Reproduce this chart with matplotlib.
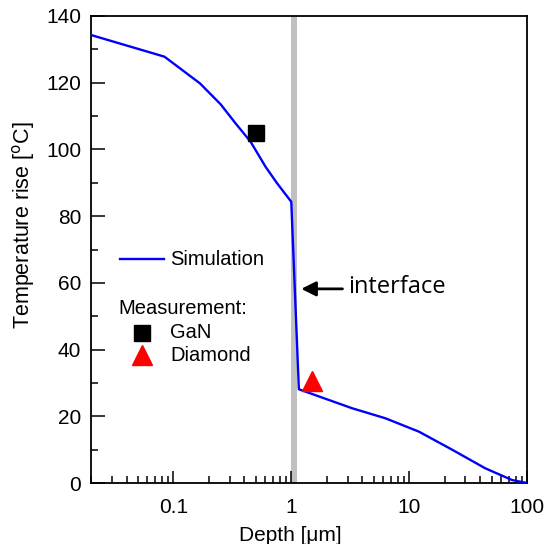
import matplotlib
matplotlib.use("Agg")
import matplotlib.pyplot as plt
from matplotlib.lines import Line2D
from matplotlib.ticker import FixedLocator, LogLocator, NullFormatter

plt.rcParams["font.family"] = ["Liberation Sans", "DejaVu Sans"]

# simulated temperature rise vs depth
sim_depth = [0.02, 0.084, 0.168, 0.252, 0.337, 0.452, 0.605, 0.76, 1.0,
             1.16, 3.29, 6.3, 12.1, 23.4, 44.3, 74.6, 100]
sim_temp = [134.3, 127.8, 119.8, 113.5, 107.8, 102.3, 94.8, 89.8, 84.3,
            28.1, 22.4, 19.4, 15.4, 9.9, 4.4, 0.9, 0.0]

# measurements
gan_depth = [0.5]
gan_temp = [105]
dia_depth = [1.5]
dia_temp = [30.5]

interface = (1.0, 1.12)

fig = plt.figure(figsize=(5.53, 5.44), dpi=100)
ax = fig.add_axes([0.1646, 0.1121, 0.9530 - 0.1646, 0.9706 - 0.1121])

ax.axvspan(*interface, color="#c0c0c0", lw=0, zorder=1)
ax.plot(sim_depth, sim_temp, color="#0000ff", lw=1.7, zorder=3)
ax.plot(gan_depth, gan_temp, "s", color="black", ms=11, zorder=4)
ax.plot(dia_depth, dia_temp, "^", color="red", ms=15, zorder=4)

ax.set_xscale("log")
ax.set_xlim(0.02, 100)
ax.set_ylim(0, 140)
ax.set_xticks([0.1, 1, 10, 100])
ax.set_xticklabels(["0.1", "1", "10", "100"])
ax.xaxis.set_minor_locator(LogLocator(base=10, subs=range(2, 10)))
ax.xaxis.set_minor_formatter(NullFormatter())
ax.set_yticks(range(0, 141, 20))
ax.yaxis.set_minor_locator(FixedLocator(range(10, 140, 20)))

ax.tick_params(which="both", direction="in", top=False, right=False,
               labelsize=15, width=1.1)
ax.tick_params(axis="x", which="major", length=9, pad=11)
ax.tick_params(axis="x", which="minor", length=5)
ax.tick_params(axis="y", which="major", length=10, pad=7)
ax.tick_params(axis="y", which="minor", length=5)
for s in ax.spines.values():
    s.set_linewidth(1.3)

ax.set_xlabel("Depth [\u03bcm]", fontsize=15)
ax.set_ylabel("Temperature rise [$^{\\mathrm{o}}$C]", fontsize=15.5)
ax.xaxis.set_label_coords(0.456, -0.092)
ax.yaxis.set_label_coords(-0.125, 0.552)

# hand-made legend
ax.add_line(Line2D([0.035, 0.084], [67.1, 67.1], color="#0000ff", lw=1.7))
ax.text(0.094, 67.1, "Simulation", fontsize=14.5, va="center")
ax.text(0.034, 52.2, "Measurement:", fontsize=14.5, va="center")
ax.plot([0.0546], [45.0], "s", color="black", ms=11)
ax.plot([0.0546], [38.3], "^", color="red", ms=15)
ax.text(0.094, 45.0, "GaN", fontsize=14.5, va="center")
ax.text(0.094, 38.1, "Diamond", fontsize=14.5, va="center")

ax.annotate("", xy=(1.15, 58.2), xytext=(2.87, 58.2),
            arrowprops=dict(arrowstyle="-|>", color="black", lw=2,
                            mutation_scale=22))
ax.text(3.05, 58.8, "interface", fontsize=17, va="center",
        family=["Open Sans", "DejaVu Sans"])

fig.savefig("out.png", dpi=100)
